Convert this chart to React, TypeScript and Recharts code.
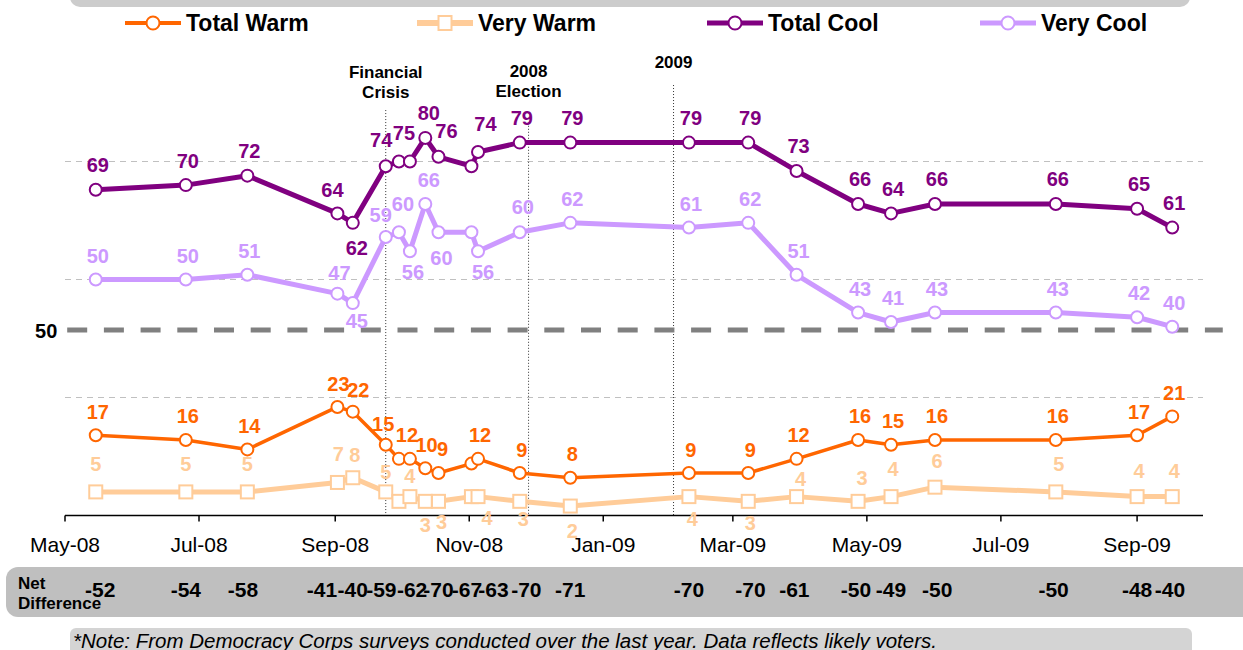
import React from 'react';
import { LineChart, Line, XAxis, YAxis, ReferenceLine, Legend } from 'recharts';

const FONT = '"Liberation Sans", Arial, Helvetica, sans-serif';

// ---------------- data ----------------
const surveyDates = [
  '2008-05-15', '2008-06-25', '2008-07-23', '2008-09-02', '2008-09-09', '2008-09-24',
  '2008-09-30', '2008-10-05', '2008-10-12', '2008-10-18', '2008-11-02', '2008-11-05',
  '2008-11-24', '2008-12-17', '2009-02-09', '2009-03-08', '2009-03-30', '2009-04-27',
  '2009-05-12', '2009-06-01', '2009-07-26', '2009-09-01', '2009-09-17',
];
const totalWarm = [17, 16, 14, 23, 22, 15, 12, 12, 10, 9, 11, 12, 9, 8, 9, 9, 12, 16, 15, 16, 16, 17, 21];
const veryWarm = [5, 5, 5, 7, 8, 5, 3, 4, 3, 3, 4, 4, 3, 2, 4, 3, 4, 3, 4, 6, 5, 4, 4];
const totalCool = [69, 70, 72, 64, 62, 74, 75, 75, 80, 76, 74, 77, 79, 79, 79, 79, 73, 66, 64, 66, 66, 65, 61];
const veryCool = [50, 50, 51, 47, 45, 59, 60, 56, 66, 60, 60, 56, 60, 62, 61, 62, 51, 43, 41, 43, 43, 42, 40];

const axisTickDates = [
  '2008-05-01', '2008-07-01', '2008-09-01', '2008-11-01', '2009-01-01',
  '2009-03-01', '2009-05-01', '2009-07-01', '2009-09-01',
];
const axisDomainDates = ['2008-05-01', '2009-10-01'];

const netDates = [
  '2008-05-17', '2008-06-25', '2008-07-21', '2008-08-26', '2008-09-09', '2008-09-22',
  '2008-10-06', '2008-10-18', '2008-10-31', '2008-11-12', '2008-11-27', '2008-12-17',
  '2009-02-09', '2009-03-09', '2009-03-29', '2009-04-26', '2009-05-12', '2009-06-02',
  '2009-07-25', '2009-09-01', '2009-09-16',
];
const netValues = [-52, -54, -58, -41, -40, -59, -62, -70, -67, -63, -70, -71, -70, -70, -61, -50, -49, -50, -50, -48, -40];

const gridValues = [25, 50, 75];
const dividerValue = 39.3;
const dividerLabel = '50';
const dividerDates = ['2008-05-02', '2009-10-10'];

const eventDates = ['2008-09-24', '2008-11-28', '2009-02-02'];
const eventLabels = [['Financial', 'Crisis'], ['2008', 'Election'], ['2009']];
const eventTops = [85.9, 83.2, 91.2];

const seriesNames = ['Total Warm', 'Very Warm', 'Total Cool', 'Very Cool'];
const noteText = '*Note: From Democracy Corps surveys conducted over the last year. Data reflects likely voters.';

// ---------------- helpers ----------------
const ts = (s: string) => {
  const [y, m, d] = s.split('-').map(Number);
  return Date.UTC(y, m - 1, d);
};
const MONTHS = ['Jan', 'Feb', 'Mar', 'Apr', 'May', 'Jun', 'Jul', 'Aug', 'Sep', 'Oct', 'Nov', 'Dec'];
const fmtTick = (v: number) => {
  const d = new Date(v);
  return `${MONTHS[d.getUTCMonth()]}-${String(d.getUTCFullYear()).slice(2)}`;
};

const data = surveyDates.map((d, i) => ({
  t: ts(d),
  tw: totalWarm[i],
  vw: veryWarm[i],
  tc: totalCool[i],
  vc: veryCool[i],
}));
const X0 = ts(axisDomainDates[0]);
const X1 = ts(axisDomainDates[1]);
const tickTs = axisTickDates.map(ts);
const netTs = netDates.map(ts);

// ---------------- styles ----------------
const C_TW = '#ff6600';
const C_VW = '#ffcc99';
const C_TC = '#800080';
const C_VC = '#cc99ff';
const LABEL_SIZE = 20;

type Adj = Record<number, [number, number] | null>;
const TC_ADJ: Adj = { 3: [-5, -16.7], 4: [4, 31.7], 5: [-4.5, -19], 6: [5, -22], 7: null, 8: [3.5, -17.6], 9: [8, -18.3], 10: [14, -35.7], 11: null };
const VC_ADJ: Adj = { 3: [2, -14], 4: [4, 25], 5: [-5, -15], 6: [4, -21.7], 7: [3, 27.4], 8: [3.5, -17], 9: [3, 32.6], 10: null, 11: [5, 28], 12: [3, -18.3] };
const TW_ADJ: Adj = { 3: [1, -16], 4: [5.5, -15], 5: [-2.5, -13.3], 6: [8, -17.3], 7: null, 8: [1.3, -16.6], 9: [4, -17], 10: null };
const VW_ADJ: Adj = {
  0: [0, -21], 1: [0, -21], 2: [0, -21], 3: [1, -21.7], 4: [2, -16], 5: [0, -12.7], 6: null, 7: [0, -13.3],
  8: [0, 31], 9: [3, 28], 10: null, 11: [9, 28.3], 12: [3.5, 25], 13: [2, 32], 14: [3.5, 29], 15: [2, 28.3],
  16: [4, -11], 17: [4, -16.7], 18: [2, -21], 19: [2, -18.7], 20: [3, -21],
};

function makeDot(key: string, color: string, shape: 'circle' | 'square', labels: number[], adj: Adj, def: [number, number]) {
  return (p: any) => {
    const { cx, cy, index } = p;
    if (cx == null || cy == null) return <g key={`${key}-${index}`} />;
    const a = index in adj ? adj[index] : def;
    return (
      <g key={`${key}-${index}`}>
        {shape === 'circle' ? (
          <circle cx={cx} cy={cy} r={6} fill="#fff" stroke={color} strokeWidth={2} />
        ) : (
          <rect x={cx - 6.5} y={cy - 6.5} width={13} height={13} fill="#fff" stroke={color} strokeWidth={2} />
        )}
        {a && (
          <text x={cx + a[0]} y={cy + a[1]} textAnchor="middle" fill={color} fontSize={LABEL_SIZE} fontWeight="bold" fontFamily={FONT}>
            {labels[index]}
          </text>
        )}
      </g>
    );
  };
}

const EventLabel = (props: any) => {
  const { viewBox, lines, gap } = props;
  if (!viewBox) return null;
  const x = viewBox.x;
  const top = viewBox.y;
  return (
    <g>
      {lines.map((l: string, i: number) => (
        <text key={i} x={x} y={top - gap - (lines.length - 1 - i) * 20} textAnchor="middle" fontSize={17} fontWeight="bold" fill="#000" fontFamily={FONT}>
          {l}
        </text>
      ))}
    </g>
  );
};

const DividerLabel = (props: any) => {
  const { viewBox, text } = props;
  if (!viewBox) return null;
  return (
    <text x={viewBox.x - 21} y={viewBox.y + 7.5} textAnchor="middle" fontSize={20} fontWeight="bold" fill="#000" fontFamily={FONT}>
      {text}
    </text>
  );
};

const NetTick = (props: any) => {
  const { x, y, payload } = props;
  const i = netTs.indexOf(payload.value);
  return (
    <text x={x} y={y + 41} textAnchor="middle" fontSize={21} fontWeight="bold" fill="#000" fontFamily={FONT}>
      {i >= 0 ? netValues[i] : ''}
    </text>
  );
};

const legendStyle = [
  { color: C_TW, shape: 'circle', w: 4, width: 292 },
  { color: C_VW, shape: 'square', w: 6, width: 290 },
  { color: C_TC, shape: 'circle', w: 5, width: 273 },
  { color: C_VC, shape: 'circle', w: 5, width: 175 },
];

const LegendContent = () => (
  <div style={{ display: 'flex', alignItems: 'center', paddingLeft: 125, fontFamily: FONT, fontWeight: 'bold', fontSize: 23, color: '#000', height: 24 }}>
    {seriesNames.map((name, i) => {
      const s = legendStyle[i];
      return (
        <div key={name} style={{ display: 'flex', alignItems: 'center', width: s.width }}>
          <svg width={56} height={18} style={{ display: 'block' }}>
            <line x1={0} x2={56} y1={9} y2={9} stroke={s.color} strokeWidth={s.w} strokeLinecap="round" />
            {s.shape === 'circle' ? (
              <circle cx={28} cy={9} r={6.5} fill="#fff" stroke={s.color} strokeWidth={2} />
            ) : (
              <rect x={21.5} y={2} width={13} height={14} fill="#fff" stroke={s.color} strokeWidth={2} />
            )}
          </svg>
          <span style={{ marginLeft: 5, whiteSpace: 'nowrap' }}>{name}</span>
        </div>
      );
    })}
  </div>
);

export default function App() {
  return (
    <div style={{ position: 'absolute', left: 0, top: 0, width: 1243, height: 650, overflow: 'hidden', background: '#fff' }}>
      <svg width={1243} height={650} style={{ position: 'absolute', left: 0, top: 0 }}>
        <rect x={70} y={-20} width={1120} height={27} rx={10} fill="#cccccc" />
        <rect x={6} y={567} width={1260} height={50} rx={12} fill="#bfbfbf" />
        <text x={18} y={589} fontSize={17} fontWeight="bold" fill="#000" fontFamily={FONT}>Net</text>
        <text x={18} y={609} fontSize={17} fontWeight="bold" fill="#000" fontFamily={FONT}>Difference</text>
        <rect x={70} y={628} width={1122} height={40} rx={6} fill="#d4d4d4" />
        <text x={73} y={648} fontSize={20.5} fontStyle="italic" fill="#000" fontFamily={FONT}>{noteText}</text>
      </svg>
      <div style={{ position: 'absolute', left: 0, top: 0 }}>
        <LineChart width={1243} height={650} data={data} margin={{ top: 43.5, right: 40, bottom: 44.5, left: 65 }}>
          <XAxis
            dataKey="t"
            type="number"
            domain={[X0, X1]}
            ticks={tickTs}
            interval={0}
            tickFormatter={fmtTick}
            height={40}
            axisLine={{ stroke: '#000', strokeWidth: 1.5 }}
            tickLine={{ stroke: '#000', strokeWidth: 1.5 }}
            tickSize={6}
            tickMargin={16}
            tick={{ fill: '#000', fontSize: 21, fontFamily: FONT }}
          />
          <XAxis
            xAxisId="net"
            dataKey="t"
            type="number"
            domain={[X0, X1]}
            ticks={netTs}
            interval={0}
            height={50}
            axisLine={false}
            tickLine={false}
            tickSize={0}
            tickMargin={0}
            tick={<NetTick />}
          />
          <YAxis hide type="number" domain={[0, 100]} width={0} />
          <Legend
            verticalAlign="middle"
            align="center"
            layout="horizontal"
            wrapperStyle={{ top: 11, left: 0, width: 1243, height: 24, margin: 0 }}
            content={() => <LegendContent />}
          />
          {gridValues.map((g) => (
            <ReferenceLine key={`g${g}`} y={g} stroke="#c0c0c0" strokeWidth={1} strokeDasharray="6 5" />
          ))}
          {eventDates.map((d, i) => (
            <ReferenceLine
              key={`e${i}`}
              segment={[{ x: ts(d), y: eventTops[i] }, { x: ts(d), y: 0 }]}
              stroke="#333"
              strokeWidth={1}
              strokeDasharray="1 2"
              ifOverflow="visible"
              label={<EventLabel lines={eventLabels[i]} gap={[12, 26, 17][i]} />}
            />
          ))}
          <ReferenceLine
            segment={[{ x: ts(dividerDates[0]), y: dividerValue }, { x: ts(dividerDates[1]), y: dividerValue }]}
            stroke="#808080"
            strokeWidth={5}
            strokeDasharray="20 16.7"
            ifOverflow="visible"
            label={<DividerLabel text={dividerLabel} />}
          />
          <Line
            dataKey="tw"
            name={seriesNames[0]}
            stroke={C_TW}
            strokeWidth={3.5}
            strokeLinejoin="round"
            isAnimationActive={false}
            dot={makeDot('tw', C_TW, 'circle', totalWarm, TW_ADJ, [2, -16.5])}
          />
          <Line
            dataKey="vw"
            name={seriesNames[1]}
            stroke={C_VW}
            strokeWidth={5}
            strokeLinejoin="round"
            isAnimationActive={false}
            dot={makeDot('vw', C_VW, 'square', veryWarm, VW_ADJ, [2, -19])}
          />
          <Line
            dataKey="tc"
            name={seriesNames[2]}
            stroke={C_TC}
            strokeWidth={5}
            strokeLinejoin="round"
            isAnimationActive={false}
            dot={makeDot('tc', C_TC, 'circle', totalCool, TC_ADJ, [2, -17.5])}
          />
          <Line
            dataKey="vc"
            name={seriesNames[3]}
            stroke={C_VC}
            strokeWidth={5}
            strokeLinejoin="round"
            isAnimationActive={false}
            dot={makeDot('vc', C_VC, 'circle', veryCool, VC_ADJ, [2, -17])}
          />
        </LineChart>
      </div>
    </div>
  );
}
